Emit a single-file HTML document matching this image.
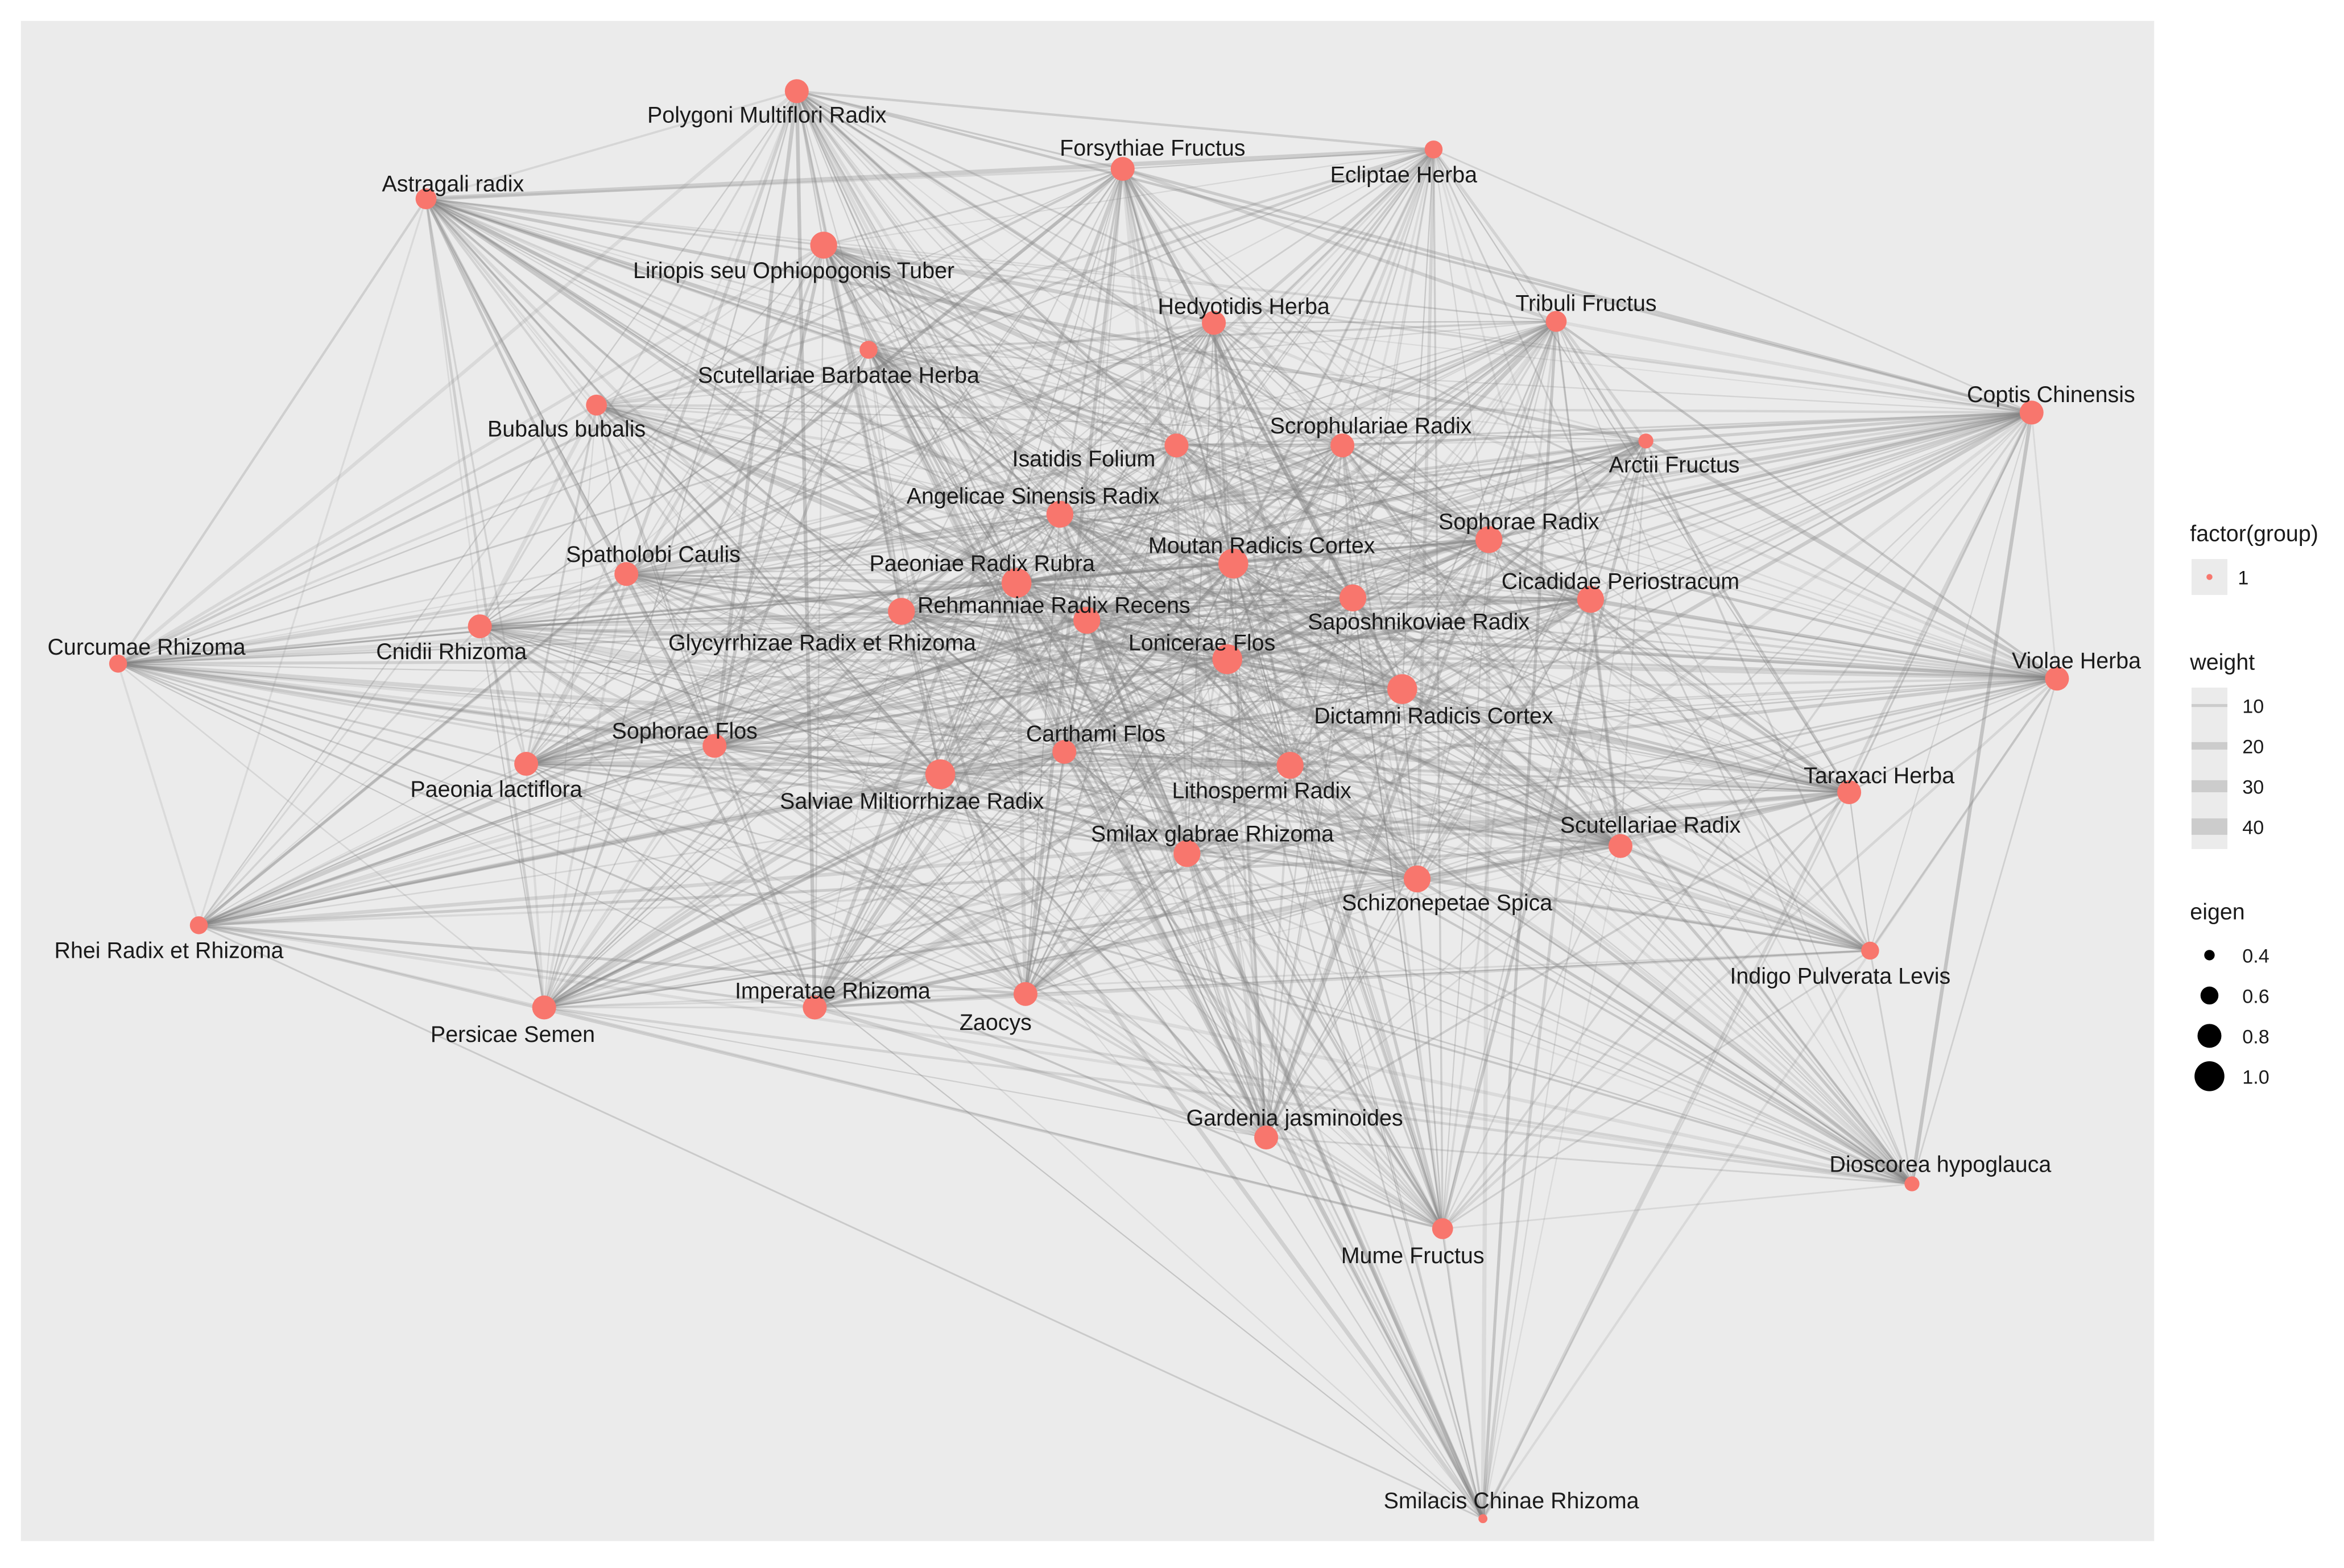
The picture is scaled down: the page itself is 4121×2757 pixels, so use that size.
<!DOCTYPE html>
<html><head><meta charset="utf-8">
<style>
html,body{margin:0;padding:0;background:#fff;}
svg{display:block;}
text{font-family:"Liberation Sans",sans-serif;}
</style></head>
<body>
<svg id="s" width="4121" height="2757" viewBox="0 0 1568 1049" xmlns="http://www.w3.org/2000/svg">
<rect x="0" y="0" width="1568" height="1049" fill="#fff"/>
<rect x="14" y="14" width="1427" height="1017" fill="#ebebeb"/>
<g id="edges"></g>
<g id="nodes" fill="#f8766d"></g>
<g font-size="15" fill="#1a1a1a" text-anchor="middle">
<text x="513" y="82">Polygoni Multiflori Radix</text>
<text x="303" y="128">Astragali radix</text>
<text x="771" y="104">Forsythiae Fructus</text>
<text x="939" y="122">Ecliptae Herba</text>
<text x="531" y="186">Liriopis seu Ophiopogonis Tuber</text>
<text x="561" y="256">Scutellariae Barbatae Herba</text>
<text x="832" y="210">Hedyotidis Herba</text>
<text x="1061" y="208">Tribuli Fructus</text>
<text x="1372" y="269">Coptis Chinensis</text>
<text x="379" y="292">Bubalus bubalis</text>
<text x="725" y="312">Isatidis Folium</text>
<text x="917" y="290">Scrophulariae Radix</text>
<text x="1120" y="316">Arctii Fructus</text>
<text x="691" y="337">Angelicae Sinensis Radix</text>
<text x="1016" y="354">Sophorae Radix</text>
<text x="844" y="370">Moutan Radicis Cortex</text>
<text x="437" y="376">Spatholobi Caulis</text>
<text x="657" y="382">Paeoniae Radix Rubra</text>
<text x="1084" y="394">Cicadidae Periostracum</text>
<text x="949" y="421">Saposhnikoviae Radix</text>
<text x="705" y="410">Rehmanniae Radix Recens</text>
<text x="550" y="435">Glycyrrhizae Radix et Rhizoma</text>
<text x="302" y="441">Cnidii Rhizoma</text>
<text x="98" y="438">Curcumae Rhizoma</text>
<text x="804" y="435">Lonicerae Flos</text>
<text x="1389" y="447">Violae Herba</text>
<text x="959" y="484">Dictamni Radicis Cortex</text>
<text x="458" y="494">Sophorae Flos</text>
<text x="332" y="533">Paeonia lactiflora</text>
<text x="733" y="496">Carthami Flos</text>
<text x="844" y="534">Lithospermi Radix</text>
<text x="610" y="541">Salviae Miltiorrhizae Radix</text>
<text x="1257" y="524">Taraxaci Herba</text>
<text x="811" y="563">Smilax glabrae Rhizoma</text>
<text x="1104" y="557">Scutellariae Radix</text>
<text x="968" y="609">Schizonepetae Spica</text>
<text x="113" y="641">Rhei Radix et Rhizoma</text>
<text x="1231" y="658">Indigo Pulverata Levis</text>
<text x="343" y="697">Persicae Semen</text>
<text x="557" y="668">Imperatae Rhizoma</text>
<text x="666" y="689">Zaocys</text>
<text x="866" y="753">Gardenia jasminoides</text>
<text x="1298" y="784">Dioscorea hypoglauca</text>
<text x="945" y="845">Mume Fructus</text>
<text x="1011" y="1009">Smilacis Chinae Rhizoma</text>
</g>
<g font-size="15" fill="#1a1a1a">
<text x="1465" y="362">factor(group)</text>
<rect x="1466" y="374" width="24" height="24" fill="#ebebeb"/>
<circle cx="1478" cy="386" r="2" fill="#f8766d"/>
<text x="1497" y="391" font-size="13">1</text>
<text x="1465" y="448">weight</text>
<rect x="1466" y="460" width="24" height="108" fill="#ebebeb"/>
<line x1="1466" y1="472" x2="1490" y2="472" stroke="#ccc" stroke-width="2"/>
<line x1="1466" y1="499" x2="1490" y2="499" stroke="#ccc" stroke-width="5"/>
<line x1="1466" y1="526" x2="1490" y2="526" stroke="#ccc" stroke-width="8"/>
<line x1="1466" y1="553" x2="1490" y2="553" stroke="#ccc" stroke-width="11"/>
<text x="1500" y="477" font-size="13">10</text>
<text x="1500" y="504" font-size="13">20</text>
<text x="1500" y="531" font-size="13">30</text>
<text x="1500" y="558" font-size="13">40</text>
<text x="1465" y="615">eigen</text>
<circle cx="1478" cy="639" r="3.5" fill="#000"/>
<circle cx="1478" cy="666" r="6" fill="#000"/>
<circle cx="1478" cy="693" r="8" fill="#000"/>
<circle cx="1478" cy="720" r="10" fill="#000"/>
<text x="1500" y="644" font-size="13">0.4</text>
<text x="1500" y="671" font-size="13">0.6</text>
<text x="1500" y="698" font-size="13">0.8</text>
<text x="1500" y="725" font-size="13">1.0</text>
</g>
</svg>
<script>
var N=[[533,61,8],[285,133,7],[751,113,8],[959,100,6],[551,164,9],[581,234,6],[812,216,8],[1041,215,7],[1359,276,8],[399,271,7],[787,298,8],[898,298,8],[1101,295,5],[709,344,9],[996,361,9],[825,377,10],[419,384,8],[680,390,10],[1064,401,9],[905,400,9],[727,415,9],[603,409,9],[321,419,8],[79,444,6],[821,441,10],[1376,454,8],[938,461,10],[478,499,8],[352,511,8],[712,503,8],[863,512,9],[629,518,10],[1237,530,8],[794,571,9],[1084,566,8],[948,588,9],[133,619,6],[1251,636,6],[364,674,8],[545,674,8],[686,665,8],[847,761,8],[1279,792,5],[965,822,7],[992,1016,3]];
var seed=7;function r(){seed=(seed*16807)%2147483647;return seed/2147483647;}
var e='',n='';
for(var i=0;i<N.length;i++)for(var j=i+1;j<N.length;j++){
 var p=(N[i][2]+N[j][2])/17;var x=r();
 if(x>p)continue;
 var w=0.8+r()*r()*2.2;var o=0.15+r()*0.22;
 e+='<line x1="'+N[i][0]+'" y1="'+N[i][1]+'" x2="'+N[j][0]+'" y2="'+N[j][1]+'" stroke="#808080" stroke-width="'+w.toFixed(2)+'" stroke-opacity="'+o.toFixed(2)+'"/>';
}
for(var k=0;k<N.length;k++)n+='<circle cx="'+N[k][0]+'" cy="'+N[k][1]+'" r="'+N[k][2]+'"/>';
document.getElementById('edges').innerHTML=e;
document.getElementById('nodes').innerHTML=n;
</script>
</body></html>
